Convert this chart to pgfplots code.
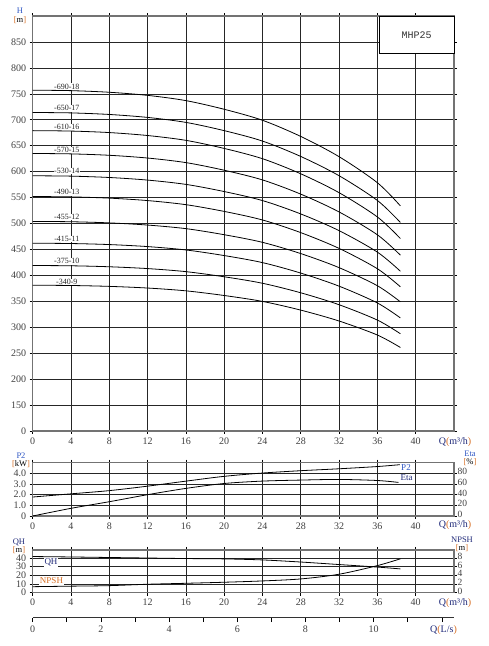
\documentclass[border=0pt]{standalone}
\usepackage{pgfplots}
\pgfplotsset{compat=1.18}
\usepackage{fontspec}
\setmainfont{Liberation Serif}
\newfontfamily\monofont{Liberation Mono}
\definecolor{lblue}{RGB}{45,85,195}
\definecolor{dblue}{RGB}{30,40,120}
\definecolor{lorange}{RGB}{215,110,35}
\pgfplotsset{
 chartbase/.style={
  scale only axis, anchor=south west,
  xmin=0, xmax=44,
  axis line style={draw=black!55, line width=1.1pt},
  grid=major, major grid style={draw=black!85, line width=0.6pt},
  tick align=outside, major tick length=3pt,
  tick style={black, line width=0.6pt},
  ticklabel style={font=\fontsize{10}{10}\selectfont, text=black!75},
  xtick={0,4,...,40}, xticklabels={0,4,8,12,16,20,24,28,32,36,40},
  clip=false,
 },
 rightbase/.style={
  scale only axis, anchor=south west,
  xmin=0, xmax=44, hide x axis,
  axis y line*=right, axis line style={draw=black!55, line width=1.1pt,-},
  tick align=outside, major tick length=0pt,
  ticklabel style={font=\fontsize{9.5}{9.5}\selectfont, text=black!75},
  yticklabel style={yshift=1.5pt},
  clip=false,
 },
 curve/.style={black, line width=0.8pt, smooth, no markers},
}
\begin{document}
\begin{tikzpicture}
\useasboundingbox (0pt,0pt) rectangle (489pt,646pt);
% ---------------- main H-Q axis
\begin{axis}[chartbase, at={(32.7pt,215pt)}, width=421.3pt, height=415pt,
  ymin=100, ymax=900, ytick={100,150,...,850},
  yticklabels={0,150,200,250,300,350,400,450,500,550,600,650,700,750,800,850}]
\begin{scope}[every node/.style={fill=white, inner sep=0.6pt, font=\fontsize{8}{8}\selectfont, text=black!85}]
\node at (axis cs:3.56,764) {-690-18};
\node at (axis cs:3.56,722) {-650-17};
\node at (axis cs:3.56,685.5) {-610-16};
\node at (axis cs:3.56,641) {-570-15};
\node at (axis cs:3.56,601) {-530-14};
\node at (axis cs:3.56,560) {-490-13};
\node at (axis cs:3.56,512.5) {-455-12};
\node at (axis cs:3.56,470) {-415-11};
\node at (axis cs:3.56,427) {-375-10};
\node at (axis cs:3.56,387.5) {-340-9};
\end{scope}
\addplot[curve] coordinates {(0,757) (4,756.1) (8,753.0) (12,747.0) (16,736.9) (20,720.2) (24,699.0) (28,667.8) (32,628.8) (36,578.6) (38.4,534)};
\addplot[curve] coordinates {(0,714) (4,713.2) (8,710.2) (12,704.5) (16,694.9) (20,679.0) (24,658.9) (28,629.2) (32,592.1) (36,544.4) (38.4,502)};
\addplot[curve] coordinates {(0,679) (4,678.2) (8,675.3) (12,669.6) (16,660.3) (20,644.7) (24,624.9) (28,595.8) (32,559.4) (36,512.6) (38.4,471)};
\addplot[curve] coordinates {(0,635) (4,634.2) (8,631.5) (12,626.2) (16,617.4) (20,602.7) (24,584.0) (28,556.6) (32,522.3) (36,478.2) (38.4,439)};
\addplot[curve] coordinates {(0,592) (4,591.3) (8,588.7) (12,583.7) (16,575.4) (20,561.6) (24,544.2) (28,518.4) (32,486.2) (36,444.8) (38.4,408)};
\addplot[curve] coordinates {(0,552) (4,551.3) (8,548.9) (12,544.2) (16,536.3) (20,523.3) (24,506.8) (28,482.4) (32,452.0) (36,412.8) (38.4,378)};
\addplot[curve] coordinates {(0,504) (4,503.4) (8,501.2) (12,497.0) (16,490.1) (20,478.4) (24,463.7) (28,442.0) (32,414.9) (36,380.0) (38.4,349)};
\addplot[curve] coordinates {(0,462) (4,461.4) (8,459.4) (12,455.5) (16,449.0) (20,438.2) (24,424.6) (28,404.4) (32,379.2) (36,346.8) (38.4,318)};
\addplot[curve] coordinates {(0,419) (4,418.5) (8,416.6) (12,413.1) (16,407.2) (20,397.3) (24,384.8) (28,366.4) (32,343.4) (36,313.8) (38.4,287.5)};
\addplot[curve] coordinates {(0,381) (4,380.5) (8,378.8) (12,375.6) (16,370.2) (20,361.2) (24,349.8) (28,333.0) (32,312.0) (36,285.0) (38.4,261)};
\draw[black, line width=0.9pt, fill=white] (axis cs:36.2,900) rectangle (axis cs:44,827);
\node[font=\monofont\fontsize{10}{10}\selectfont, text=black!80] at (axis cs:40.1,863.5) {MHP25};
\end{axis}
% ---------------- P2 / Eta axis
\begin{axis}[chartbase, at={(32.7pt,130pt)}, width=421.3pt, height=53.3pt,
  ymin=0, ymax=5, ytick={0,1,2,3,4}, yticklabels={0,1.0,2.0,3.0,4.0}]
\addplot[curve] coordinates {(0,1.78) (4,2.08) (8,2.38) (12,2.8) (16,3.27) (20,3.72) (24,4.03) (28,4.25) (32,4.43) (36,4.64) (38.4,4.82)};
\end{axis}
\begin{axis}[rightbase, at={(32.7pt,130pt)}, width=421.3pt, height=53.3pt,
  ymin=0, ymax=100, ytick={0,20,40,60,80}, yticklabels={0,20,40,60,80}]
\addplot[curve] coordinates {(0,0) (4,14.4) (8,26.8) (12,40) (16,51.8) (20,61) (24,65.5) (28,67.4) (32,68.6) (36,66.6) (38.2,63)};
\end{axis}
% ---------------- QH / NPSH axis
\begin{axis}[chartbase, at={(32.7pt,53.3pt)}, width=421.3pt, height=42.7pt,
  ymin=0, ymax=49, ytick={0,10,20,30,40}, yticklabels={0,10,20,30,40}]
\addplot[curve] coordinates {(0,41.5) (4,41.0) (8,40.4) (12,39.8) (16,39.2) (20,38.8) (24,37.6) (28,35.2) (32,32.3) (36,29.4) (38.4,27.3)};
\end{axis}
\begin{axis}[rightbase, at={(32.7pt,53.3pt)}, width=421.3pt, height=42.7pt,
  ymin=0, ymax=9.8, ytick={0,2,4,6,8}, yticklabels={0,2,4,6,8}]
\addplot[curve] coordinates {(0,1.38) (4,1.5) (8,1.62) (12,1.94) (16,2.16) (20,2.4) (24,2.7) (28,3.16) (32,4.24) (36,6.22) (38.4,7.78)};
\end{axis}
% ---------------- L/s axis
\begin{axis}[scale only axis, anchor=south west, at={(32.7pt,28.3pt)}, width=421.3pt, height=1pt,
  xmin=0, xmax=12.355, ymin=0, ymax=1, hide y axis, axis x line*=bottom,
  axis line style={-, draw=black!80, line width=0.8pt},
  xtick={0,2,4,6,8,10}, xticklabels={0,2,4,6,8,10},
  minor xtick={1,3,5,7,9,11,12},
  tick align=outside, major tick length=4.5pt, minor tick length=4.5pt,
  tick style={black, line width=0.7pt},
  ticklabel style={font=\fontsize{10}{10}\selectfont, text=black!75}]
\addplot[draw=none] coordinates {(0,0)};
\end{axis}
% ---------------- texts
\begin{scope}[every node/.style={inner sep=0pt, font=\fontsize{8.5}{8.5}\selectfont}]
\node[text=lblue] at (20pt,635pt) {H};
\node at (20pt,626pt) {{\color{lorange}[}m{\color{lorange}]}};
\node[text=lblue] at (21pt,190pt) {P2};
\node at (21pt,181.5pt) {{\color{lorange}[}kW{\color{lorange}]}};
\node[text=lblue] at (470pt,192pt) {Eta};
\node at (470pt,183.5pt) {{\color{lorange}[}\%{\color{lorange}]}};
\node[text=dblue] at (19pt,104pt) {QH};
\node at (19pt,96pt) {{\color{lorange}[}m{\color{lorange}]}};
\node[text=dblue] at (462pt,106pt) {NPSH};
\node at (462pt,98pt) {{\color{lorange}[}m{\color{lorange}]}};
\end{scope}
\begin{scope}[every node/.style={inner sep=0pt, font=\fontsize{10}{10}\selectfont, text=dblue}]
\node at (455pt,203.8pt) {Q{\color{lorange}(}m³/h{\color{lorange})}};
\node at (455pt,120.5pt) {Q{\color{lorange}(}m³/h{\color{lorange})}};
\node at (455pt,42.8pt) {Q{\color{lorange}(}m³/h{\color{lorange})}};
\node at (443.5pt,16pt) {Q{\color{lorange}(}L/s{\color{lorange})}};
\end{scope}
\begin{scope}[every node/.style={fill=white, inner sep=0.8pt, font=\fontsize{9}{9}\selectfont}]
\node[text=lblue] at (406pt,178.7pt) {P2};
\node[text=dblue] at (406.7pt,168.7pt) {Eta};
\node[text=dblue] at (51pt,83.3pt) {QH};
\node[text=lorange] at (51.5pt,65.3pt) {NPSH};
\end{scope}
\end{tikzpicture}
\end{document}
